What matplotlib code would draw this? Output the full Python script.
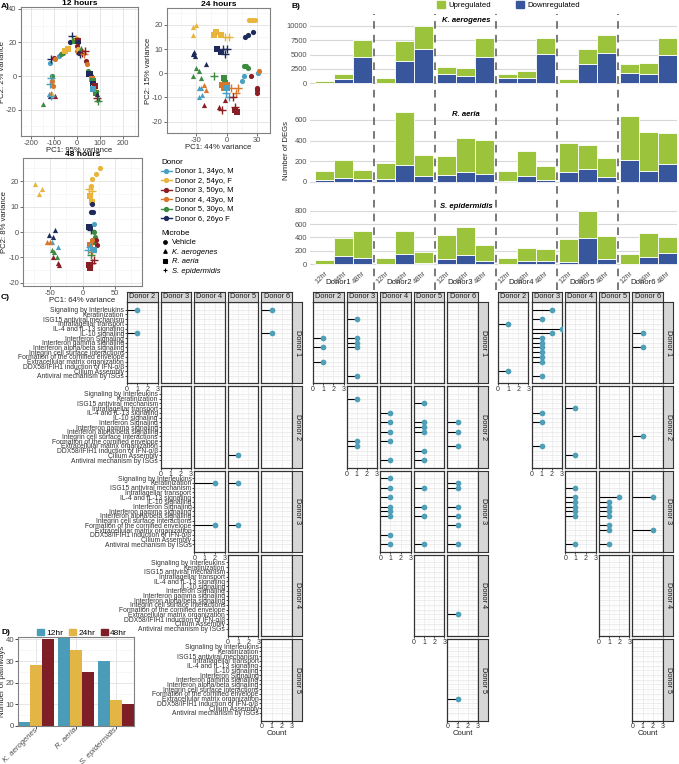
import matplotlib
matplotlib.use('Agg')
import matplotlib.pyplot as plt
from matplotlib.lines import Line2D
from matplotlib.patches import Patch
from matplotlib.ticker import MultipleLocator

plt.rcParams['font.family'] = ['Liberation Sans', 'DejaVu Sans']
plt.rcParams['axes.unicode_minus'] = False

W, H = 679, 764
fig = plt.figure(figsize=(W / 100, H / 100), dpi=100)


def box(x0, y0, x1, y1):
    # pixel rectangle (from top-left) -> figure fraction
    return [x0 / W, 1 - y1 / H, (x1 - x0) / W, (y1 - y0) / H]


# ---------------- data ----------------
donor_labels = ['Donor 1, 34yo, M', 'Donor 2, 54yo, F', 'Donor 3, 50yo, M',
                'Donor 4, 43yo, M', 'Donor 5, 30yo, M', 'Donor 6, 26yo F']
donor_colors = ['#4aa0c2', '#e8b43c', '#8a1e25', '#d8762a', '#3d8a40', '#1e2a5a']
microbe_labels = ['Vehicle', 'K. aerogenes', 'R. aeria', 'S. epidermidis']
microbe_codes = ['V', 'K', 'R', 'S']
microbe_markers = {'V': 'o', 'K': '^', 'R': 's', 'S': '+'}

# PCA 12 hours
pc12_x = [-150, -124, -119, -113, -107, -96, -113, -118, -110, -107, -113, -104, -118, -113, -99, -95,
          -79, -70, -63, -51, -38, -32, -20, -11, -6, 0, 2, 6, -2, 0, 6, 9, 14, 17, 20, 28, 34,
          40, 45, 47, 51, 57, 62, 66, 68, 71, 75, 77, 81, 85, 88, 90, 93, 79, 70]
pc12_y = [-17, -11, -12, -10, -11, -12, -12, -5, -3, 0, -1, -6, 8, 10, 11, 10,
          12, 13, 14, 15, 16, 20, 24, 21, 23, 22, 21, 20, 18, 15, 16, 14, 13, 17, 14, 13, 15,
          9, 7, 3, 1, 1, 0, -2, -3, -5, -7, -9, -10, -11, -13, -14, -15, -6, -8]
pc12_donor = [5, 1, 6, 4, 2, 3, 1, 1, 4, 5, 1, 4, 1, 6, 3, 4,
              1, 5, 5, 2, 2, 6, 6, 5, 2, 4, 3, 6, 3, 4, 2, 6, 6, 5, 3, 4, 3,
              3, 4, 5, 6, 6, 6, 4, 5, 6, 2, 4, 5, 6, 3, 6, 5, 3, 1]
pc12_microbe = ['K', 'K', 'K', 'K', 'K', 'K', 'S', 'S', 'V', 'V', 'S', 'V', 'V', 'S', 'V', 'V',
                'V', 'V', 'V', 'R', 'R', 'V', 'S', 'R', 'K', 'V', 'R', 'V', 'V', 'V', 'V', 'V', 'S', 'K', 'S', 'S', 'S',
                'V', 'V', 'V', 'R', 'R', 'V', 'R', 'R', 'R', 'R', 'S', 'R', 'K', 'S', 'K', 'S', 'R', 'R']

# PCA 24 hours
pc24_x = [-33, -30, -33, -12, -10, -6, -2, 2, 22, 25, 28,
          -32, -33, -31, -20, -9, -6, -4, -2, 0, 18, 21, 26,
          -30, -27, -33, -25, -12, -3, -2, 17, 19, 21,
          -27, -25, -27, -24, -22, -20, -22, -8, -2,
          -5, -3, 0, 4, 9, 11, -1, 2, 0, 15, 17, 31, 32, 24,
          30, 30, 30, 6, 8, -5, 8, 10]
pc24_y = [19, 20, 16, 16, 17, 16, 15, 15, 22, 22, 22,
          9, 8, 7, 4, 10, 9, 10, 8, 10, 15, 16, 17,
          2, 1, -1, -2, -1, -2, -4, 3, 3, 2,
          -6, -6, -10, -9, -5, -7, -13, -14, -11,
          -5, -6, -5, -6, -8, -6, -8, -10, -6, -3, -1, 0, 1, -1,
          -6, -7, -8, -10, -14, -15, -15, -16]
pc24_donor = [2, 2, 2, 2, 2, 2, 2, 2, 2, 2, 2,
              6, 6, 6, 6, 6, 6, 6, 6, 6, 6, 6, 6,
              5, 5, 5, 5, 5, 5, 5, 5, 5, 5,
              1, 1, 1, 1, 4, 4, 3, 3, 3,
              4, 4, 4, 4, 4, 4, 1, 1, 1, 1, 1, 1, 4, 3,
              3, 3, 3, 3, 3, 3, 3, 3]
pc24_microbe = ['K', 'K', 'K', 'R', 'R', 'R', 'S', 'S', 'V', 'V', 'V',
                'K', 'K', 'K', 'K', 'R', 'R', 'S', 'S', 'S', 'V', 'V', 'V',
                'K', 'K', 'K', 'K', 'S', 'R', 'R', 'V', 'V', 'V',
                'K', 'K', 'K', 'K', 'K', 'K', 'K', 'K', 'K',
                'R', 'R', 'R', 'S', 'S', 'S', 'S', 'S', 'R', 'V', 'V', 'V', 'V', 'V',
                'V', 'V', 'V', 'S', 'S', 'S', 'R', 'R']

# PCA 48 hours
pc48_x = [-73, -63, -67, 27, 20, 15, 13, 10, 14, 12, 14,
          15, 13, 16, 9, 11, 13, -42, -52, -45,
          -38, -47, -55, -50, -48, -44, -40, -45, -38, -36,
          18, 17, 19, 16, 21, 22, 12, 15, 8, 11, 14, 18, 15, 9, 12, 13, 18]
pc48_y = [19, 17, 15, 25, 23, 21, 18, 17, 16, 14, 12,
          11, 8, 8, 2, 2, 1, 1, -1, -2,
          -6, -4, -4, -4, -7, -8, -10, -10, -12, -13,
          3, 0, -2, -4, -3, -5, -5, -3, -7, -6, -8, -11, -12, -13, -14, -9, -7]
pc48_donor = [2, 2, 2, 2, 2, 2, 2, 2, 2, 2, 2,
              6, 6, 6, 6, 6, 6, 6, 6, 6,
              1, 1, 4, 4, 5, 5, 5, 3, 3, 3,
              1, 5, 5, 5, 3, 3, 4, 4, 1, 1, 4, 3, 3, 3, 3, 5, 1]
pc48_microbe = ['K', 'K', 'K', 'V', 'V', 'V', 'V', 'S', 'S', 'R', 'R',
                'V', 'V', 'V', 'R', 'R', 'S', 'K', 'K', 'K',
                'K', 'K', 'K', 'K', 'K', 'K', 'K', 'K', 'K', 'K',
                'V', 'V', 'V', 'R', 'V', 'V', 'R', 'V', 'S', 'S', 'S', 'S', 'S', 'R', 'R', 'S', 'R']

# DEG bars (donor x time), downregulated and upregulated counts
deg_donors = ['Donor1', 'Donor2', 'Donor3', 'Donor4', 'Donor5', 'Donor6']
deg_times = ['12hr', '24hr', '48hr']
kaero_down = [20, 750, 4540, 30, 3890, 5930, 1620, 1330, 4540, 980, 980, 5110, 30, 3370, 5340, 1850, 1570, 4940]
kaero_up = [380, 870, 3010, 820, 3540, 4120, 1280, 1280, 3310, 640, 1220, 2740, 670, 2620, 3090, 1470, 1920, 2910]
raeria_down = [17, 39, 26, 26, 162, 55, 65, 91, 75, 5, 55, 20, 97, 123, 49, 211, 107, 172]
raeria_up = [87, 172, 88, 159, 518, 204, 187, 330, 330, 96, 243, 132, 282, 233, 178, 427, 373, 304]
sepi_down = [3, 128, 89, 3, 149, 24, 74, 139, 49, 3, 54, 54, 30, 387, 74, 3, 104, 164]
sepi_up = [61, 259, 411, 86, 347, 164, 363, 412, 239, 86, 184, 169, 347, 412, 352, 150, 358, 238]

# Pathway lollipops: (row donor, column donor, pathway index, count)
pathways = ['Signaling by Interleukins', 'Keratinization', 'ISG15 antiviral mechanism',
            'Intraflagellar transport', 'IL-4 and IL-13 signaling', 'IL-10 signaling',
            'Interferon Signaling', 'Interferon gamma signaling', 'Interferon alpha/beta signaling',
            'Integrin cell surface interactions', 'Formation of the cornified envelope',
            'Extracellular matrix organization', 'DDX58/IFIH1 induction of IFN-\u03b1/\u03b2',
            'Cilium Assembly', 'Antiviral mechanism by ISGs']
lolli_grid1 = [(1, 2, 0, 1), (1, 2, 5, 1), (1, 6, 0, 1), (1, 6, 5, 1),
               (2, 5, 13, 1),
               (3, 4, 1, 2), (3, 4, 10, 2), (3, 5, 1, 1), (3, 5, 10, 1)]
lolli_grid2 = [(1, 2, 6, 1), (1, 2, 8, 1), (1, 2, 11, 1), (1, 3, 2, 1), (1, 3, 6, 1), (1, 3, 7, 1),
               (1, 3, 8, 1), (1, 3, 14, 1),
               (2, 3, 1, 1), (2, 3, 10, 1), (2, 3, 11, 1), (2, 4, 4, 1), (2, 4, 6, 1), (2, 4, 8, 1),
               (2, 4, 10, 1), (2, 4, 14, 1), (2, 5, 2, 1), (2, 5, 6, 1), (2, 5, 7, 1), (2, 5, 8, 1),
               (2, 5, 12, 1), (2, 5, 14, 1), (2, 6, 6, 1), (2, 6, 8, 1), (2, 6, 11, 1),
               (3, 4, 0, 1), (3, 4, 2, 1), (3, 4, 4, 1), (3, 4, 6, 1), (3, 4, 7, 1), (3, 4, 8, 1),
               (3, 4, 12, 1), (3, 4, 14, 1), (3, 5, 2, 1), (3, 5, 6, 1), (3, 5, 8, 1), (3, 5, 14, 1),
               (3, 6, 1, 1), (3, 6, 2, 1), (3, 6, 6, 1), (3, 6, 8, 1), (3, 6, 10, 1), (3, 6, 14, 1),
               (4, 6, 11, 1),
               (5, 6, 11, 1)]
lolli_grid3 = [(1, 2, 3, 1), (1, 2, 13, 1), (1, 3, 0, 2), (1, 3, 2, 1), (1, 3, 4, 3), (1, 3, 5, 2),
               (1, 3, 6, 1), (1, 3, 7, 1), (1, 3, 8, 1), (1, 3, 9, 1), (1, 3, 10, 1), (1, 3, 11, 1),
               (1, 3, 14, 1), (1, 6, 5, 1), (1, 6, 8, 1),
               (2, 3, 4, 1), (2, 3, 6, 1), (2, 3, 11, 1), (2, 4, 3, 1), (2, 4, 13, 1), (2, 6, 9, 1),
               (3, 4, 2, 1), (3, 4, 4, 1), (3, 4, 5, 1), (3, 4, 6, 1), (3, 4, 7, 1), (3, 4, 8, 1),
               (3, 4, 14, 1), (3, 5, 4, 2), (3, 5, 5, 1), (3, 5, 6, 1), (3, 5, 7, 1), (3, 5, 8, 1),
               (3, 5, 10, 1), (3, 5, 11, 1), (3, 5, 14, 1), (3, 6, 4, 2), (3, 6, 11, 2)]

# pathway counts per microbe and time
path_microbes = ['K. aerogenes', 'R. aeria', 'S. epidermidis']
path_12hr = [2, 41, 30]
path_24hr = [28, 35, 12]
path_48hr = [40, 25, 10]

# ---------------- A) PCA ----------------
def pca_panel(rect, title, xs, ys, donors, microbes, xlim, ylim, xstep, ystep, xlab, ylab):
    ax = fig.add_axes(box(*rect))
    for x, y, d, m in zip(xs, ys, donors, microbes):
        if m == 'S':
            ax.scatter(x, y, marker='+', s=26, linewidths=1.0, color=donor_colors[d - 1], zorder=3)
        else:
            ax.scatter(x, y, marker=microbe_markers[m], s=14, linewidths=0,
                       color=donor_colors[d - 1], zorder=3)
    ax.set_xlim(xlim)
    ax.set_ylim(ylim)
    ax.xaxis.set_major_locator(MultipleLocator(xstep))
    ax.xaxis.set_minor_locator(MultipleLocator(xstep / 2))
    ax.yaxis.set_major_locator(MultipleLocator(ystep))
    ax.yaxis.set_minor_locator(MultipleLocator(ystep / 2))
    ax.grid(True, which='major', color='#e2e2e2', lw=0.6)
    ax.grid(True, which='minor', color='#f1f1f1', lw=0.4)
    ax.set_axisbelow(True)
    for s in ax.spines.values():
        s.set_color('#808080')
        s.set_linewidth(0.8)
    ax.tick_params(which='major', labelsize=5.4, length=2, width=0.5, pad=1,
                   color='#333333', labelcolor='#4d4d4d')
    ax.tick_params(which='minor', length=0)
    ax.set_title(title, fontsize=6, fontweight='bold', pad=1.5)
    ax.set_xlabel(xlab, fontsize=5.6, labelpad=0, color='#222222')
    ax.set_ylabel(ylab, fontsize=5.6, labelpad=0, color='#222222')
    return ax


pca_panel((20.7, 7.3, 138.3, 136), '12 hours', pc12_x, pc12_y, pc12_donor, pc12_microbe,
          (-245, 266), (-35.8, 41), 100, 20, 'PC1: 95% variance', 'PC2: 2% variance')
pca_panel((167, 8, 270, 133), '24 hours', pc24_x, pc24_y, pc24_donor, pc24_microbe,
          (-59, 43), (-24.7, 27), 30, 10, 'PC1: 44% variance', 'PC2: 15% variance')
pca_panel((23.3, 158.3, 141.7, 285.7), '48 hours', pc48_x, pc48_y, pc48_donor, pc48_microbe,
          (-91.5, 91), (-21.1, 29), 50, 10, 'PC1: 64% variance', 'PC2: 8% variance')

donor_handles = [Line2D([0], [0], color=c, lw=1.0, marker='o', markersize=2.8) for c in donor_colors]
leg1 = fig.legend(donor_handles, donor_labels, title='Donor', loc='upper left',
                  bbox_to_anchor=(161 / W, 1 - 159 / H), frameon=False, fontsize=5.5,
                  title_fontsize=5.8, handlelength=1.4, handletextpad=0.4, labelspacing=0.28,
                  alignment='left', borderaxespad=0, borderpad=0)
microbe_handles = [Line2D([0], [0], color='black', lw=0, marker=microbe_markers[m],
                          markersize=2.6 if m != 'S' else 3.4, markeredgewidth=0.8)
                   for m in microbe_codes]
leg2 = fig.legend(microbe_handles, microbe_labels, title='Microbe', loc='upper left',
                  bbox_to_anchor=(161 / W, 1 - 230 / H), frameon=False, fontsize=5.5,
                  title_fontsize=5.8, handlelength=1.0, handletextpad=0.4, labelspacing=0.28,
                  alignment='left', borderaxespad=0, borderpad=0)
for t in leg2.get_texts()[1:]:
    t.set_fontstyle('italic')

# ---------------- B) DEG stacked bars ----------------
green = '#9bc43c'
blue = '#37569c'
group_step = 3.22
bar_x = [d * group_step + t for d in range(len(deg_donors)) for t in range(len(deg_times))]
b_xlim = (-0.764, 18.61)
b_panels = [
    ((310, 23, 677, 86), kaero_down, kaero_up, (-471, 10522), [0, 2500, 5000, 7500, 10000]),
    ((310, 107, 677, 184), raeria_down, raeria_up, (-22, 725), [0, 200, 400, 600]),
    ((310, 206, 677, 267), sepi_down, sepi_up, (-40, 869), [0, 200, 400, 600, 800]),
]
b_axes = []
for rect, down, up, ylim, yt in b_panels:
    ax = fig.add_axes(box(*rect))
    ax.bar(bar_x, down, width=1.0, color=blue, edgecolor='white', linewidth=0.6, zorder=2)
    ax.bar(bar_x, up, bottom=down, width=1.0, color=green, edgecolor='white', linewidth=0.6, zorder=2)
    ax.set_xlim(b_xlim)
    ax.set_ylim(ylim)
    ax.set_yticks(yt)
    ax.set_xticks([])
    ax.grid(True, axis='y', color='#d8d8d8', lw=0.8)
    ax.set_axisbelow(True)
    for s in ax.spines.values():
        s.set_visible(False)
    ax.tick_params(axis='y', labelsize=5.4, length=0, pad=2, labelcolor='#4d4d4d')
    b_axes.append(ax)

ax_s = b_axes[-1]
ax_s.set_xticks(bar_x)
ax_s.set_xticklabels(deg_times * len(deg_donors), rotation=45, ha='right',
                     rotation_mode='anchor', fontsize=5.4, color='#4d4d4d')
ax_s.tick_params(axis='x', length=0, pad=2)
for d, name in enumerate(deg_donors):
    ax_s.text(d * group_step + 0.7, -0.26, name, transform=ax_s.get_xaxis_transform(),
              ha='center', va='center', fontsize=5.6, color='#222222')

fig.text(466 / W, 1 - 20.5 / H, 'K. aerogenes', fontsize=5.6, fontweight='bold',
         fontstyle='italic', ha='center', va='center')
fig.text(466 / W, 1 - 115 / H, 'R. aeria', fontsize=5.6, fontweight='bold',
         fontstyle='italic', ha='center', va='center')
fig.text(466 / W, 1 - 206 / H, 'S. epidermidis', fontsize=5.6, fontweight='bold',
         fontstyle='italic', ha='center', va='center')
fig.text(287 / W, 1 - 150 / H, 'Number of DEGs', rotation=90, fontsize=5.6,
         ha='center', va='center', color='#222222')

# dashed separators between donors
ax_d = fig.add_axes(box(310, 14, 677, 290))
ax_d.set_xlim(b_xlim)
ax_d.set_ylim(0, 1)
ax_d.axis('off')
for d in range(len(deg_donors) - 1):
    ax_d.axvline(d * group_step + 2.61, color='#555555', lw=1.1, dashes=(5, 4))

fig.legend([Patch(color=green), Patch(color=blue)], ['Upregulated', 'Downregulated'],
           loc='upper left', bbox_to_anchor=(436 / W, 1 - 0.5 / H), ncol=2, frameon=False,
           fontsize=5.6, handlelength=1.0, handleheight=1.0, handletextpad=0.5,
           columnspacing=3.2, borderaxespad=0, borderpad=0.1)

# ---------------- C) lollipop grids ----------------
teal = '#4e9fb7'
c_gx = [127, 313, 498]
c_top0 = 302
c_rowstep = 84.25
c_h = 81.5
c_colstep = 33.6
c_w = 30.5
strip_bg = '#d6d6d6'
edge = '#333333'


def strip(rect, text, rot):
    sa = fig.add_axes(box(*rect))
    sa.set_facecolor(strip_bg)
    sa.set_xticks([])
    sa.set_yticks([])
    for s in sa.spines.values():
        s.set_color(edge)
        s.set_linewidth(0.8)
    sa.text(0.5, 0.5, text, transform=sa.transAxes, ha='center', va='center',
            fontsize=5.3, rotation=rot, color='#1a1a1a')


for g, entries in enumerate([lolli_grid1, lolli_grid2, lolli_grid3]):
    for r in range(5):
        for c in range(r, 5):
            x0 = c_gx[g] + c * c_colstep
            y0 = c_top0 + r * c_rowstep
            ax = fig.add_axes(box(x0, y0, x0 + c_w, y0 + c_h))
            ax.set_xlim(0, 3)
            ax.set_ylim(15.6, -1.6)
            ax.set_xticks([0, 1, 2, 3])
            ax.set_xticks([0.5, 1.5, 2.5], minor=True)
            ax.set_yticks(range(len(pathways)))
            ax.set_yticks([i + 0.5 for i in range(-1, len(pathways))], minor=True)
            ax.grid(True, which='major', color='#e6e6e6', lw=0.5)
            ax.grid(True, which='minor', color='#f3f3f3', lw=0.35)
            ax.set_axisbelow(True)
            for s in ax.spines.values():
                s.set_color(edge)
                s.set_linewidth(0.9)
            ys = [e[2] for e in entries if e[0] == r + 1 and e[1] == c + 2]
            ns = [e[3] for e in entries if e[0] == r + 1 and e[1] == c + 2]
            if ys:
                ax.hlines(ys, 0, ns, color='black', lw=0.8, zorder=2)
                ax.scatter(ns, ys, s=17, color=teal, zorder=3, linewidths=0)
            ax.tick_params(which='minor', length=0)
            if c == r:
                ax.tick_params(axis='x', labelsize=5.0, length=1.5, width=0.5, pad=0.5,
                               labelcolor='#333333')
            else:
                ax.tick_params(axis='x', labelbottom=False, length=0)
            if g == 0 and c == r:
                ax.set_yticklabels(pathways)
                ax.tick_params(axis='y', labelsize=4.9, length=1.5, width=0.5, pad=0.5,
                               labelcolor='#333333')
            else:
                ax.tick_params(axis='y', labelleft=False, length=0)
            if r == 4:
                ax.set_xlabel('Count', fontsize=5.5, labelpad=0, color='#222222')
            if r == 0:
                strip((x0, c_top0 - 9.5, x0 + c_w, c_top0 - 0.5), 'Donor %d' % (c + 2), 0)
            if c == 4:
                strip((x0 + c_w + 0.5, y0, x0 + c_w + 10.5, y0 + c_h), 'Donor %d' % (r + 1), -90)

# ---------------- D) pathways per microbe ----------------
d_colors = ['#4b9cb8', '#e2b545', '#7e1f28']
axd = fig.add_axes(box(18.3, 637.3, 134.3, 726))
for k, (vals, col) in enumerate(zip([path_12hr, path_24hr, path_48hr], d_colors)):
    axd.bar([i + (k - 1) * 0.3 for i in range(len(path_microbes))], vals, width=0.3,
            color=col, zorder=2)
axd.set_xlim(-0.45, 2.45)
axd.set_ylim(0, 41)
axd.set_xticks(range(len(path_microbes)))
axd.set_xticklabels(path_microbes, rotation=45, ha='right', va='center', rotation_mode='anchor',
                    fontsize=4.8, fontstyle='italic', color='#333333')
axd.yaxis.set_major_locator(MultipleLocator(10))
axd.yaxis.set_minor_locator(MultipleLocator(5))
axd.grid(True, which='major', color='#e2e2e2', lw=0.6)
axd.grid(True, which='minor', axis='y', color='#f1f1f1', lw=0.4)
axd.set_axisbelow(True)
for s in axd.spines.values():
    s.set_color('#808080')
    s.set_linewidth(0.8)
axd.tick_params(which='major', labelsize=5.6, length=2, width=0.5, pad=1, labelcolor='#4d4d4d')
axd.tick_params(axis='x', pad=0.3)
axd.tick_params(which='minor', length=0)
axd.set_ylabel('Number of pathways', fontsize=5.6, color='#222222')
axd.yaxis.set_label_coords(-0.105, 0.5)
fig.legend([Patch(color=c) for c in d_colors], ['12hr', '24hr', '48hr'], loc='upper left',
           bbox_to_anchor=(37 / W, 1 - 628.5 / H), ncol=3, frameon=False, fontsize=6,
           handlelength=0.8, handleheight=0.9, handletextpad=0.3, columnspacing=0.7,
           borderaxespad=0, borderpad=0)

# panel letters
for lab, (px, py) in {'A)': (1, 7), 'B)': (292, 7), 'C)': (1, 298), 'D)': (1, 633)}.items():
    fig.text(px / W, 1 - py / H, lab, fontsize=6, fontweight='bold', ha='left', va='center')

fig.savefig('out.png', dpi=100)
